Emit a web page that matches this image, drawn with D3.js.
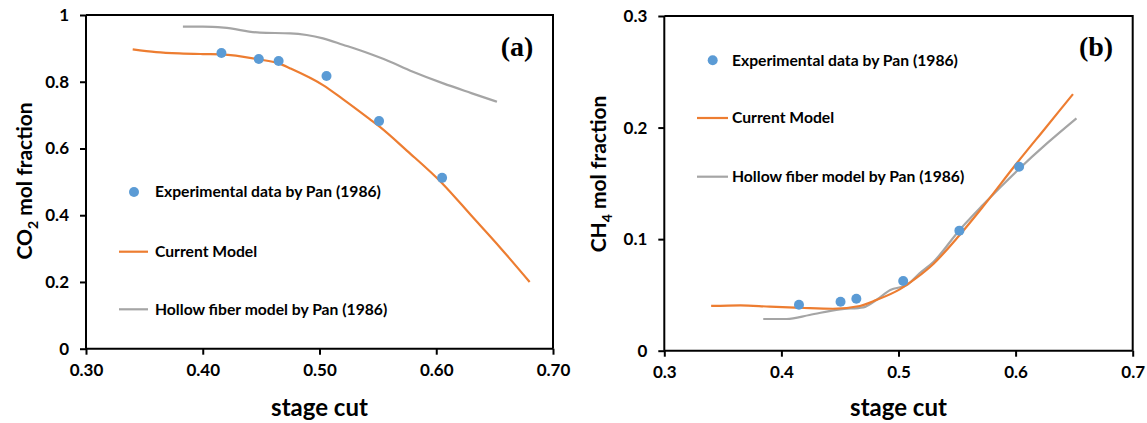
<!DOCTYPE html>
<html><head><meta charset="utf-8">
<script src="https://cdn.jsdelivr.net/npm/d3@7"></script>
<style>
html,body{margin:0;padding:0;background:#fff;}
text{font-family:Lato,"Open Sans",sans-serif;font-weight:bold;fill:#000;}
</style></head>
<body><svg id="c" width="1147" height="423"></svg>
<script>
// ---------- Data ----------
// Panel (a): CO2 mol fraction
const expA_x = [0.416, 0.448, 0.465, 0.506, 0.551, 0.605];
const expA_y = [0.886, 0.868, 0.862, 0.817, 0.682, 0.512];
const curA_x = [0.340, 0.360, 0.380, 0.400, 0.416, 0.448, 0.465, 0.475, 0.503, 0.520, 0.543, 0.552, 0.575, 0.605, 0.630, 0.655, 0.680];
const curA_y = [0.897, 0.889, 0.885, 0.883, 0.882, 0.867, 0.855, 0.840, 0.790, 0.748, 0.688, 0.664, 0.593, 0.496, 0.399, 0.302, 0.200];
const hfA_x = [0.383, 0.400, 0.418, 0.449, 0.475, 0.489, 0.503, 0.520, 0.543, 0.555, 0.580, 0.606, 0.630, 0.652];
const hfA_y = [0.965, 0.965, 0.962, 0.947, 0.945, 0.940, 0.930, 0.911, 0.884, 0.868, 0.830, 0.795, 0.766, 0.740];
// Panel (b): CH4 mol fraction
const expB_x = [0.415, 0.4505, 0.464, 0.504, 0.552, 0.603];
const expB_y = [0.0412, 0.0439, 0.0466, 0.0625, 0.1076, 0.1649];
const curB_x = [0.340, 0.365, 0.390, 0.416, 0.444, 0.467, 0.481, 0.501, 0.515, 0.530, 0.550, 0.572, 0.601, 0.625, 0.649];
const curB_y = [0.0401, 0.0407, 0.0395, 0.0385, 0.0376, 0.0401, 0.0454, 0.0550, 0.0650, 0.0780, 0.1010, 0.1290, 0.1680, 0.1990, 0.2300];
const hfB_x = [0.3845, 0.4045, 0.424, 0.450, 0.470, 0.481, 0.493, 0.507, 0.518, 0.530, 0.552, 0.572, 0.602, 0.627, 0.652];
const hfB_y = [0.0284, 0.0284, 0.0320, 0.0371, 0.0389, 0.0454, 0.0544, 0.0589, 0.0694, 0.0798, 0.1080, 0.1305, 0.1620, 0.1860, 0.2083];

const xTicksA = [0.30, 0.40, 0.50, 0.60, 0.70];
const yTicksA = [0, 0.2, 0.4, 0.6, 0.8, 1];
const xTicksB = [0.3, 0.4, 0.5, 0.6, 0.7];
const yTicksB = [0, 0.1, 0.2, 0.3];
const legendLabels = ["Experimental data by Pan (1986)", "Current Model", "Hollow fiber model by Pan (1986)"];
const colors = {exp: "#5B9BD5", cur: "#ED7D31", hf: "#A5A5A5"};

const svg = d3.select("#c");
const zip = (xs, ys) => xs.map((x, i) => [x, ys[i]]);

function panel(cfg) {
  const g = svg.append("g");
  const x = d3.scaleLinear().domain(cfg.xDom).range([cfg.left, cfg.right]);
  const y = d3.scaleLinear().domain(cfg.yDom).range([cfg.bottom, cfg.top]);

  // frame (top + right)
  g.append("path")
    .attr("d", `M${cfg.left},${cfg.top}H${cfg.right}V${cfg.bottom}`)
    .attr("fill", "none").attr("stroke", "#000").attr("stroke-width", 2);

  const xAx = g.append("g").attr("transform", `translate(0,${cfg.bottom})`)
    .call(d3.axisBottom(x).tickValues(cfg.xTicks).tickSize(6).tickPadding(9).tickFormat(cfg.xFmt));
  const yAx = g.append("g").attr("transform", `translate(${cfg.left},0)`)
    .call(d3.axisLeft(y).tickValues(cfg.yTicks).tickSize(6).tickPadding(11).tickFormat(cfg.yFmt));
  [xAx, yAx].forEach(a => {
    a.select(".domain").attr("stroke", "#000").attr("stroke-width", 2);
    a.selectAll(".tick line").attr("stroke", "#000").attr("stroke-width", 2);
    a.selectAll(".tick text").style("font-family", "Lato,sans-serif").style("font-weight", "bold")
      .style("font-size", "17px").attr("fill", "#000");
  });
  xAx.select(".domain").attr("d", `M${cfg.left},0H${cfg.right}`);
  yAx.select(".domain").attr("d", `M0,${cfg.bottom}V${cfg.top}`);

  const line = d3.line().x(d => x(d[0])).y(d => y(d[1])).curve(d3.curveMonotoneX);
  g.append("path").datum(zip(cfg.hfX, cfg.hfY)).attr("d", line)
    .attr("fill", "none").attr("stroke", colors.hf).attr("stroke-width", 2.2);
  g.append("path").datum(zip(cfg.curX, cfg.curY)).attr("d", line)
    .attr("fill", "none").attr("stroke", colors.cur).attr("stroke-width", 2.2);
  g.selectAll("circle.e").data(zip(cfg.expX, cfg.expY)).enter().append("circle")
    .attr("cx", d => x(d[0])).attr("cy", d => y(d[1])).attr("r", 5).attr("fill", colors.exp);

  // axis titles
  g.append("text").attr("x", (cfg.left + cfg.right) / 2).attr("y", 416)
    .attr("text-anchor", "middle").style("font-size", "24px").text("stage cut");
  const yt = g.append("text")
    .attr("transform", `translate(${cfg.yLabX},${cfg.yLabY}) rotate(-90)`)
    .attr("text-anchor", "middle").style("font-size", "21px");
  yt.append("tspan").text(cfg.yLab1);
  yt.append("tspan").attr("dy", 6).style("font-size", "14px").text(cfg.yLabSub);
  yt.append("tspan").attr("dy", -6).text(" mol fraction");

  // panel tag
  g.append("text").attr("x", cfg.tagX).attr("y", 56).attr("text-anchor", "middle")
    .style("font-family", "'Liberation Serif','Times New Roman',serif").style("font-size", "28px")
    .text(cfg.tag);

  // legend
  const L = cfg.legend;
  const lg = g.append("g");
  lg.append("circle").attr("cx", L.mx).attr("cy", L.y[0]).attr("r", 5).attr("fill", colors.exp);
  lg.append("line").attr("x1", L.lx1).attr("x2", L.lx2).attr("y1", L.y[1]).attr("y2", L.y[1])
    .attr("stroke", colors.cur).attr("stroke-width", 2.2);
  lg.append("line").attr("x1", L.lx1).attr("x2", L.lx2).attr("y1", L.y[2]).attr("y2", L.y[2])
    .attr("stroke", colors.hf).attr("stroke-width", 2.2);
  legendLabels.forEach((t, i) => {
    lg.append("text").attr("x", L.tx).attr("y", L.y[i]).attr("dy", "0.35em")
      .style("font-size", "15.7px").text(t);
  });
}

panel({
  left: 86, right: 553, top: 15, bottom: 348.7,
  xDom: [0.3, 0.7], yDom: [0, 1],
  xTicks: xTicksA, yTicks: yTicksA,
  xFmt: d3.format(".2f"), yFmt: d => d === 0 ? "0" : d === 1 ? "1" : d3.format(".1f")(d),
  expX: expA_x, expY: expA_y, curX: curA_x, curY: curA_y, hfX: hfA_x, hfY: hfA_y,
  yLab1: "CO", yLabSub: "2", yLabX: 32, yLabY: 181,
  tag: "(a)", tagX: 517,
  legend: {mx: 134, lx1: 119, lx2: 148, tx: 155, y: [192, 251.7, 309.3]}
});
panel({
  left: 664.3, right: 1132.7, top: 16, bottom: 350.7,
  xDom: [0.3, 0.7], yDom: [0, 0.3],
  xTicks: xTicksB, yTicks: yTicksB,
  xFmt: d3.format(".1f"), yFmt: d => d === 0 ? "0" : d3.format(".1f")(d),
  expX: expB_x, expY: expB_y, curX: curB_x, curY: curB_y, hfX: hfB_x, hfY: hfB_y,
  yLab1: "CH", yLabSub: "4", yLabX: 606, yLabY: 174,
  tag: "(b)", tagX: 1096,
  legend: {mx: 712.7, lx1: 697, lx2: 728, tx: 732, y: [60.3, 118, 176.7]}
});
</script></body></html>
